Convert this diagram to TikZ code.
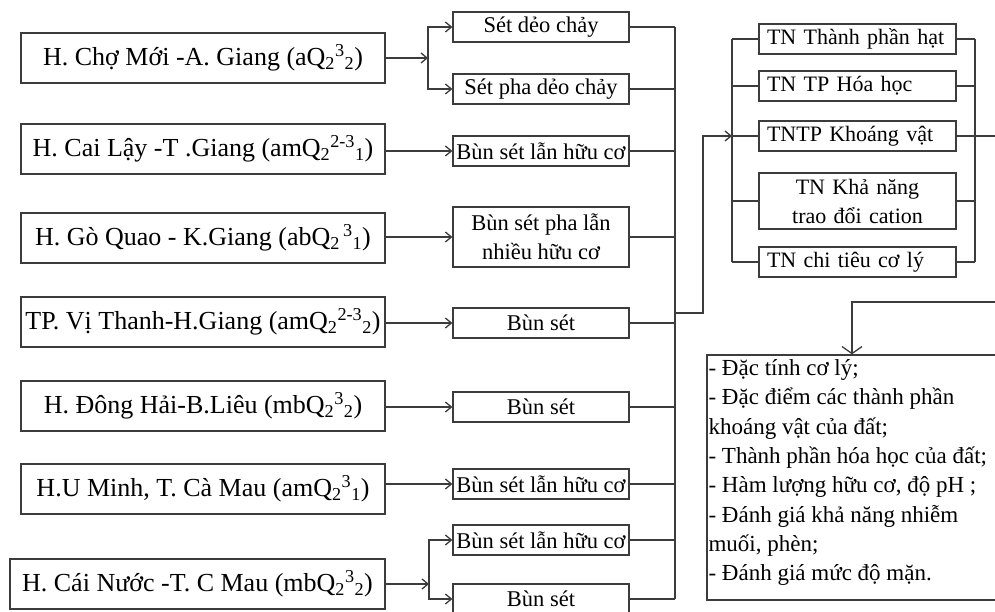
\documentclass[tikz,border=0pt]{standalone}
\usepackage{fontspec}
\setmainfont{Liberation Serif}
\usetikzlibrary{arrows.meta}
\definecolor{wire}{RGB}{60,60,60}
\newcommand{\qage}[3]{Q\textsubscript{#1}\textsuperscript{#2}\textsubscript{#3}}
\tikzset{
  box/.style={draw=wire,line width=1.3pt,inner sep=0pt,font=\fontsize{22.5}{29}\selectfont},
  srcbox/.style={box,minimum width=364pt,minimum height=50pt,font=\fontsize{26}{30}\selectfont},
  soilbox/.style={box,minimum width=176pt,minimum height=30pt,align=center},
  testbox/.style={box,minimum width=197pt,minimum height=30pt,inner xsep=8pt,text width=181pt,align=left,font=\fontsize{22}{29}\selectfont},
  wireline/.style={draw=wire,line width=1.3pt},
  arr/.style={wireline,-{Straight Barb[length=6pt,width=10pt]}},
  bigarr/.style={wireline,-{Straight Barb[length=7pt,width=20pt]}}
}
\begin{document}
\begin{tikzpicture}[x=1pt,y=-1pt]
\useasboundingbox (0,0) rectangle (995,612);
\clip (0,0) rectangle (995,612);
% source areas
\node[srcbox] (s1) at (203,58) {H. Chợ Mới -A. Giang (a\qage{2}{3}{2})};
\node[srcbox] (s2) at (203,149) {H. Cai Lậy -T .Giang (am\qage{2}{2-3}{1})};
\node[srcbox] (s3) at (203,238) {H. Gò Quao - K.Giang (ab\qage{2}{\,3}{1})};
\node[srcbox] (s4) at (203,322) {TP. Vị Thanh-H.Giang (am\qage{2}{2-3}{2})};
\node[srcbox] (s5) at (203,406) {H. Đông Hải-B.Liêu (mb\qage{2}{3}{2})};
\node[srcbox] (s6) at (203,489) {H.U Minh, T. Cà Mau (am\qage{2}{3}{1})};
\node[srcbox,minimum width=375pt] (s7) at (197.5,584) {H. Cái Nước -T. C Mau (mb\qage{2}{3}{2})};
% soil types
\node[soilbox] (m1) at (541,27) {Sét dẻo chảy};
\node[soilbox] (m2) at (541,89) {Sét pha dẻo chảy};
\node[soilbox] (m3) at (541,151) {Bùn sét lẫn hữu cơ};
\node[soilbox,minimum height=60pt] (m4) at (541,237) {Bùn sét pha lẫn\\nhiều hữu cơ};
\node[soilbox] (m5) at (541,323) {Bùn sét};
\node[soilbox] (m6) at (541,407) {Bùn sét};
\node[soilbox] (m7) at (541,484) {Bùn sét lẫn hữu cơ};
\node[soilbox] (m8) at (541,540) {Bùn sét lẫn hữu cơ};
\node[soilbox] (m9) at (541,599) {Bùn sét};
% tests
\node[testbox] (t1) at (857.5,39) {TN Thành phần hạt};
\node[testbox] (t2) at (857.5,86) {TN TP Hóa học};
\node[testbox] (t3) at (857.5,136) {TNTP Khoáng vật};
\node[testbox,align=center,minimum height=56pt] (t4) at (857.5,201) {TN Khả năng\\trao đổi cation};
\node[testbox] (t5) at (857.5,262) {TN chi tiêu cơ lý};
% results
\node[box,minimum width=290pt,minimum height=245pt] (sum) at (852,477.5) {};
\node[anchor=north west,align=left,inner sep=0pt,font=\fontsize{23}{29.3}\selectfont] (sumtext) at ([xshift=2pt,yshift=-5pt]sum.north west)
  {- Đặc tính cơ lý;\\- Đặc điểm các thành phần\\khoáng vật của đất;\\- Thành phần hóa học của đất;\\- Hàm lượng hữu cơ, độ pH ;\\- Đánh giá khả năng nhiễm\\muối, phèn;\\- Đánh giá mức độ mặn.};
% bus lines
\coordinate (bus) at (675,0);
\coordinate (tleft) at (732,0);
\coordinate (tright) at (975,0);
\coordinate (fork1) at (428,58);
\coordinate (fork2) at (429,584);
\coordinate (jog) at (703,313);
\coordinate (exit) at (999,302);
% sources to soil types
\draw[arr] (s1.east) -- (fork1);
\draw[arr] (fork1) |- (m1.west);
\draw[arr] (fork1) |- (m2.west);
\foreach \s/\m in {s2/m3,s3/m4,s4/m5,s5/m6,s6/m7}
  \draw[arr] (\s.east |- \m.west) -- (\m.west);
\draw[arr] (s7.east) -- (fork2);
\draw[arr] (fork2) |- (m8.west);
\draw[arr] (fork2) |- (m9.west);
% soil types to tests
\foreach \m in {m1,m2,m3,m4,m5,m6,m7,m8,m9}
  \draw[wireline] (\m.east) -- (\m.east -| bus);
\draw[wireline] (m1.east -| bus) -- (m9.east -| bus);
\draw[arr] (jog -| bus) -- (jog) |- (t3.west -| tleft);
\foreach \t in {t1,t2,t3,t4,t5}{
  \draw[wireline] (\t.west -| tleft) -- (\t.west);
  \draw[wireline] (\t.east) -- (\t.east -| tright);
}
\draw[wireline] (t1.west -| tleft) -- (t5.west -| tleft);
\draw[wireline] (t1.east -| tright) -- (t5.east -| tright);
\draw[bigarr] (t3.east) -| (exit) -| (sum.north);
\end{tikzpicture}
\end{document}
